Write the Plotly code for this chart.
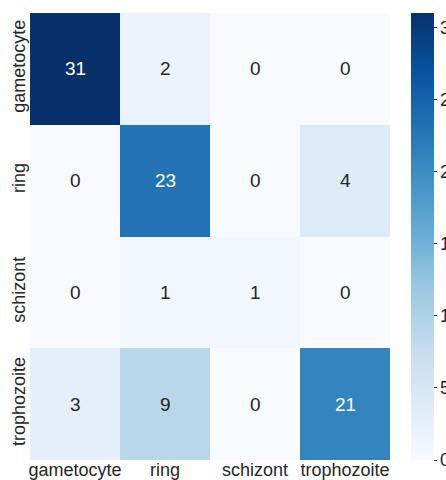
import plotly.graph_objects as go

classes = ["gametocyte", "ring", "schizont", "trophozoite"]
matrix = [
    [31, 2, 0, 0],
    [0, 23, 0, 4],
    [0, 1, 1, 0],
    [3, 9, 0, 21],
]
colorbar_ticks = [0, 5, 10, 15, 20, 25, 30]

blues = ["#f7fbff", "#deebf7", "#c6dbef", "#9ecae1", "#6baed6",
         "#4292c6", "#2171b5", "#08519c", "#08306b"]
colorscale = [[i / (len(blues) - 1), c] for i, c in enumerate(blues)]

zmax = max(max(r) for r in matrix)
FONT = "Liberation Sans, Arial, sans-serif"
TXT = "#262626"

fig = go.Figure(go.Heatmap(
    z=matrix, x=classes, y=classes,
    colorscale=colorscale, zmin=0, zmax=zmax,
    xgap=0, ygap=0,
    colorbar=dict(
        x=1.0583, xanchor="left", xpad=0,
        y=0.5, yanchor="middle", ypad=0,
        len=1, lenmode="fraction",
        thickness=23, thicknessmode="pixels",
        outlinewidth=0,
        tickvals=colorbar_ticks,
        ticks="outside", ticklen=3, tickwidth=1, tickcolor=TXT,
        tickfont=dict(family=FONT, size=18, color=TXT),
    ),
    hoverinfo="skip",
))

annotations = []
for i, row_name in enumerate(classes):
    for j, col_name in enumerate(classes):
        v = matrix[i][j]
        annotations.append(dict(
            x=col_name, y=row_name, text=str(v), showarrow=False,
            font=dict(family=FONT, size=19,
                      color="white" if v > 0.55 * zmax else TXT),
        ))

fig.update_layout(
    width=446, height=480,
    margin=dict(l=30, r=56, t=13, b=20, autoexpand=False),
    paper_bgcolor="white", plot_bgcolor="white",
    annotations=annotations,
    xaxis=dict(showgrid=False, zeroline=False, showline=False, ticks="",
               automargin=False, ticklabelstandoff=-3,
               tickfont=dict(family=FONT, size=18, color=TXT)),
    yaxis=dict(showgrid=False, zeroline=False, showline=False, ticks="",
               automargin=False,
               autorange="reversed", tickangle=-90,
               tickfont=dict(family=FONT, size=18, color=TXT)),
)

fig.write_html("out.html")
